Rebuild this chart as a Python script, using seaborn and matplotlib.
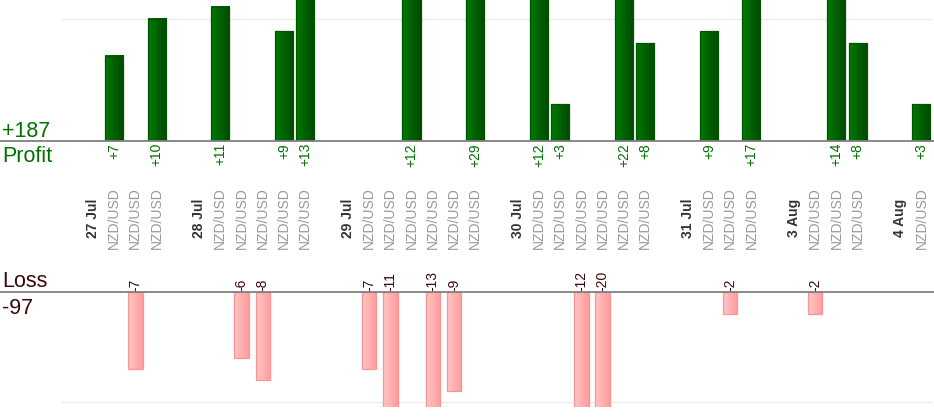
import numpy as np
import pandas as pd
import matplotlib
matplotlib.use('Agg')
import matplotlib.pyplot as plt
import matplotlib.transforms as mtransforms
from matplotlib.colors import LinearSegmentedColormap
from matplotlib.patches import Rectangle
from matplotlib.lines import Line2D
import seaborn as sns

# one slot per column of the chart: '' = spacer, date = day header, else the pair
slot_labels = ['', '27 Jul', 'NZD/USD', 'NZD/USD', 'NZD/USD',
               '', '28 Jul', 'NZD/USD', 'NZD/USD', 'NZD/USD', 'NZD/USD', 'NZD/USD',
               '', '29 Jul', 'NZD/USD', 'NZD/USD', 'NZD/USD', 'NZD/USD', 'NZD/USD', 'NZD/USD',
               '', '30 Jul', 'NZD/USD', 'NZD/USD', 'NZD/USD', 'NZD/USD', 'NZD/USD', 'NZD/USD',
               '', '31 Jul', 'NZD/USD', 'NZD/USD', 'NZD/USD',
               '', '3 Aug', 'NZD/USD', 'NZD/USD', 'NZD/USD',
               '', '4 Aug', 'NZD/USD']
trade_pips = [None, None, 7, -7, 10,
              None, None, 11, -6, -8, 9, 13,
              None, None, -7, -11, 12, -13, -9, 29,
              None, None, 12, 3, -12, -20, 22, 8,
              None, None, 9, -2, 17,
              None, None, -2, 14, 8,
              None, None, 3]
date_labels = ['27 Jul', '28 Jul', '29 Jul', '30 Jul', '31 Jul', '3 Aug', '4 Aug']

GREEN = '#007000'
MAROON = '#3a0808'

df = pd.DataFrame({'slot': range(len(slot_labels)), 'label': slot_labels,
                   'pips': pd.array(trade_pips, dtype='Float64')})
wins = df[df.pips > 0].astype({'pips': float})
losses = df[df.pips < 0].astype({'pips': float})
order = list(range(len(slot_labels)))

sns.set_theme(style='white')
plt.rcParams['font.family'] = ['Liberation Sans', 'DejaVu Sans']

W, H = 934, 420
fig = plt.figure(figsize=(W / 100, H / 100), dpi=100)
left, width = 61 / W, 871 / W
ax_p = fig.add_axes([left, 1 - 141 / H, width, 141 / H])
ax_l = fig.add_axes([left, 1 - 407 / H, width, 115 / H])


def shade(ax, c0, c1, edge):
    # horizontal gradient over each bar, clipped by the axes box
    cmap = LinearSegmentedColormap.from_list('grad', [c0, c1])
    grad = np.linspace(0, 1, 64).reshape(1, -1)
    for p in list(ax.patches):
        x0, y0, w, h = p.get_x(), p.get_y(), p.get_width(), p.get_height()
        ax.imshow(grad, cmap=cmap, extent=[x0, x0 + w, y0, y0 + h],
                  aspect='auto', interpolation='bilinear', zorder=3)
        ax.add_patch(Rectangle((x0, y0), w, h, fill=False, edgecolor=edge,
                               lw=0.9, zorder=4))


sns.barplot(data=wins, x='slot', y='pips', order=order, width=0.85,
            color='#005a00', saturation=1, linewidth=0, ax=ax_p)
shade(ax_p, '#007a00', '#004800', '#005400')

sns.barplot(data=losses, x='slot', y='pips', order=order, width=0.68,
            color='#ffb0b0', saturation=1, linewidth=0, ax=ax_l)
shade(ax_l, '#ffc6c6', '#ff9c9c', '#ff9494')

for ax in (ax_p, ax_l):
    ax.set_xlim(-0.5, len(slot_labels) - 0.5)
    ax.set_xticks([])
    ax.set_yticks([])
    ax.set_xlabel('')
    ax.set_ylabel('')
    for s in ax.spines.values():
        s.set_visible(False)
ax_p.set_ylim(0, 11.55)
ax_l.set_ylim(-10.5, 0)
ax_p.axhline(10, color='#ebebeb', lw=1, zorder=0)
ax_l.axhline(-10, color='#ebebeb', lw=1, zorder=0)

# baselines run across the whole width
for ypx in (141, 292):
    fig.add_artist(Line2D([0, 1], [1 - ypx / H] * 2, transform=fig.transFigure,
                          color='#808080', lw=1.3))

# value labels
for _, r in wins.iterrows():
    ax_p.annotate(f"+{int(r.pips)}", (r.slot, 0), xytext=(0, -1.5),
                  textcoords='offset points', rotation=90, ha='center',
                  va='top', fontsize=10, color=GREEN, annotation_clip=False)
for _, r in losses.iterrows():
    ax_l.annotate(f"{int(r.pips)}", (r.slot, 0), xytext=(0, 1),
                  textcoords='offset points', rotation=90, ha='center',
                  va='bottom', fontsize=10, color=MAROON, annotation_clip=False)

# category labels between the panels
trans = mtransforms.blended_transform_factory(ax_p.transData, fig.transFigure)
for i, lab in enumerate(slot_labels):
    if not lab:
        continue
    if lab in date_labels:
        ax_p.text(i, 1 - 218 / H, lab, transform=trans, rotation=90, ha='center',
                  va='center', fontsize=10, fontweight='bold', color='#333333')
    else:
        ax_p.text(i, 1 - 218 / H, lab, transform=trans, rotation=90, ha='center',
                  va='center', fontsize=10, color='#999999')

total_win = int(wins.pips.sum())
total_loss = int(losses.pips.sum())
fig.text(2 / W, 1 - 137 / H, f"+{total_win}", fontsize=15.5, color=GREEN, va='baseline')
fig.text(2 / W, 1 - 162 / H, 'Profit', fontsize=15.5, color=GREEN, va='baseline')
fig.text(2 / W, 1 - 287 / H, 'Loss', fontsize=15.5, color=MAROON, va='baseline')
fig.text(2 / W, 1 - 314 / H, f"{total_loss}", fontsize=15.5, color=MAROON, va='baseline')

fig.savefig('out.png', dpi=100, facecolor='white')
